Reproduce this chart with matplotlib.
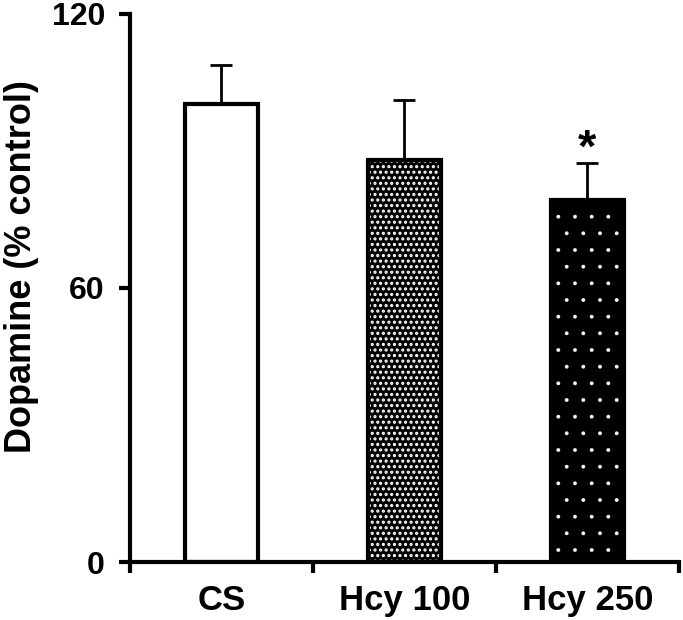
import matplotlib.pyplot as plt
import numpy as np

plt.rcParams['font.family'] = ['Liberation Sans', 'DejaVu Sans']
plt.rcParams['font.weight'] = 'bold'

groups = ['CS', 'Hcy 100', 'Hcy 250']
dopamine = [100.3, 88.0, 79.3]
sem = [8.5, 13.2, 8.1]
stars = ['', '', '*']

fig = plt.figure(figsize=(6.83, 6.2), dpi=100)
ax = fig.add_axes([0.1903, 0.0935, 0.8038, 0.884])

x = np.arange(len(groups)) + 0.5
w = 0.4

# bases
ax.bar(x[0], dopamine[0], w, color='white', edgecolor='black', linewidth=3, zorder=2)
ax.bar(x[1:], dopamine[1:], w, color='black', edgecolor='black', linewidth=0, zorder=2)
# white dot patterns
plt.rcParams['hatch.linewidth'] = 1.5
ax.bar(x[1], dopamine[1], w, color='none', edgecolor='white', hatch='...', linewidth=0, zorder=3)
plt.rcParams['hatch.linewidth'] = 0.3
ax.bar(x[2], dopamine[2], w, color='none', edgecolor='white', hatch='.', linewidth=0, zorder=3)
ax.bar(x[1:], dopamine[1:], w, color='none', edgecolor='black', linewidth=3, zorder=4)

ax.errorbar(x, dopamine, yerr=[np.zeros(3), sem], fmt='none', ecolor='black',
            elinewidth=2, capsize=8, capthick=2, zorder=1)

for xi, d, s, st in zip(x, dopamine, sem, stars):
    if st:
        ax.text(xi, d + s + 0.3, st, ha='center', va='baseline', fontsize=34, fontweight='bold')

ax.set_xlim(0, 3)
ax.set_ylim(0, 120)
ax.set_yticks([0, 60, 120])
ax.set_xticks([0, 1, 2, 3])
ax.set_xticklabels([])
ax.set_xticks(x, minor=True)
ax.set_xticklabels(groups, minor=True)
ax.tick_params(axis='x', which='minor', length=0, pad=16, labelsize=25)
ax.tick_params(axis='x', which='major', length=8, width=3, direction='out')
ax.tick_params(axis='y', length=8, width=3, labelsize=23, pad=10)
ax.set_ylabel('Dopamine (% control)', fontsize=26, fontweight='bold')
ax.yaxis.set_label_coords(-0.166, 0.54)

for sp in ['top', 'right']:
    ax.spines[sp].set_visible(False)
for sp in ['left', 'bottom']:
    ax.spines[sp].set_linewidth(3)

fig.savefig('out.png', dpi=100)
